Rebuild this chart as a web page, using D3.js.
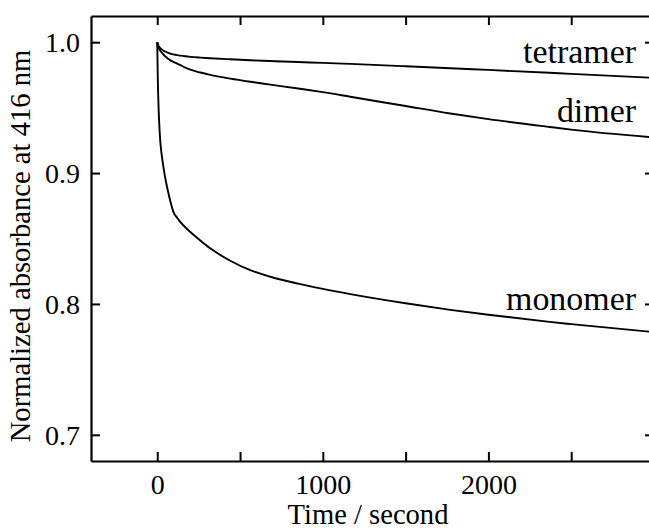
<!DOCTYPE html>
<html>
<head>
<meta charset="utf-8">
<script src="https://cdn.jsdelivr.net/npm/d3@7"></script>
<style>
  html, body { margin: 0; padding: 0; background: #fff; overflow: hidden; }
  svg { display: block; }
</style>
</head>
<body>
<svg id="chart" width="649" height="530"></svg>
<script>
// ---- data ----
const times = [0, 3, 8, 12, 18, 24, 30, 40, 48, 60, 66, 80, 97, 120, 140, 170, 200, 260, 320, 441, 562, 683, 850, 1000, 1166, 1500, 1770, 2000, 2370, 2500, 3000];
const monomer = [1.0, 0.975, 0.950, 0.938, 0.925, 0.917, 0.911, 0.9025, 0.8965, 0.889, 0.8855, 0.878, 0.8705, 0.8658, 0.8625, 0.8585, 0.855, 0.8485, 0.8425, 0.833, 0.8258, 0.8208, 0.8155, 0.8115, 0.8075, 0.8005, 0.7955, 0.7917, 0.7863, 0.7846, 0.7785];
const dimer   = [1.0, 0.9975, 0.9957, 0.9947, 0.9935, 0.9925, 0.9916, 0.9902, 0.9892, 0.9879, 0.9873, 0.9861, 0.985, 0.9836, 0.9824, 0.9806, 0.979, 0.9768, 0.975, 0.9722, 0.9698, 0.9676, 0.9646, 0.9618, 0.9583, 0.9512, 0.9455, 0.9412, 0.9352, 0.9332, 0.9272];
const tetramer= [1.0, 0.9985, 0.9972, 0.9964, 0.9955, 0.9948, 0.9942, 0.9934, 0.9929, 0.9922, 0.9919, 0.9913, 0.9907, 0.9901, 0.9897, 0.9892, 0.9888, 0.9882, 0.9877, 0.9869, 0.9862, 0.9856, 0.9848, 0.9842, 0.9834, 0.9816, 0.9801, 0.9788, 0.9766, 0.9758, 0.9727];
const seriesNames = ["tetramer", "dimer", "monomer"];
const xTicksMajor = [0, 1000, 2000];
const xTicksAll = [0, 500, 1000, 1500, 2000, 2500];
const yTicks = [0.7, 0.8, 0.9, 1.0];
const xTitle = "Time / second";
const yTitle = "Normalized absorbance at 416 nm";

// ---- font choice: first available serif face ----
const cv = document.createElement("canvas").getContext("2d");
function w(txt, fam, px) { cv.font = `${px}px ${fam}`; return cv.measureText(txt).width; }
const probe = "Normalized absorbance 1000 tetramer";
const candidates = ['"Liberation Serif"', '"Times New Roman"', '"DejaVu Serif"', '"Noto Serif"', 'Tinos', 'FreeSerif', '"Nimbus Roman"', 'Georgia'];
let FONT = null;
for (const c of candidates) {
  if (Math.abs(w(probe, c + ", monospace", 50) - w(probe, "monospace", 50)) > 0.5 &&
      Math.abs(w(probe, c + ", sans-serif", 50) - w(probe, "sans-serif", 50)) > 0.5) { FONT = c + ", serif"; break; }
}
if (!FONT) FONT = '"Liberation Serif", serif';
function fit(txt, target) { return 100 * target / w(txt, FONT, 100); }
const tickSize = Math.min(30, fit("1000", 56));
const titleSizeX = fit(xTitle, 161);
const titleSizeY = fit(yTitle, 393);
const labelSize = fit("monomer", 130);

// ---- layout ----
const svg = d3.select("#chart");
const L = 91, R = 654, T = 16, B = 461;
const x = d3.scaleLinear().domain([-400, 3000]).range([L, R]);
const y = d3.scaleLinear().domain([0.68, 1.02]).range([B, T]);

svg.append("defs").append("clipPath").attr("id", "plot")
  .append("rect").attr("x", L).attr("y", T).attr("width", R - L).attr("height", B - T);

// curves
const seriesData = { tetramer, dimer, monomer };
const line = d3.line()
  .x((d, i) => x(times[i]))
  .y(d => y(d))
  .curve(d3.curveMonotoneX);

const g = svg.append("g").attr("clip-path", "url(#plot)");
seriesNames.forEach(name => {
  g.append("path")
    .datum(seriesData[name])
    .attr("d", line)
    .attr("fill", "none")
    .attr("stroke", "#000")
    .attr("stroke-width", 1.9)
    .attr("stroke-linejoin", "round");
});

// axes
const tickLen = 9;
const axB = d3.axisBottom(x).tickValues(xTicksAll).tickSizeInner(-tickLen).tickSizeOuter(0)
  .tickFormat(d => xTicksMajor.includes(d) ? d3.format("d")(d) : "");
const axT = d3.axisTop(x).tickValues(xTicksAll).tickSizeInner(-tickLen).tickSizeOuter(0).tickFormat("");
const axL = d3.axisLeft(y).tickValues(yTicks).tickSizeInner(-tickLen).tickSizeOuter(0).tickFormat(d3.format(".1f"));
const axR = d3.axisRight(y).tickValues(yTicks).tickSizeInner(-tickLen).tickSizeOuter(0).tickFormat("");

function style(sel) {
  sel.attr("font-family", FONT);
  sel.selectAll(".domain").attr("stroke", "#000").attr("stroke-width", 2.2);
  sel.selectAll(".tick line").attr("stroke", "#000").attr("stroke-width", 2);
  sel.selectAll(".tick text").attr("font-family", FONT).attr("font-size", tickSize).attr("fill", "#000");
}

const gb = svg.append("g").attr("transform", `translate(0,${B})`).call(axB).call(style);
gb.selectAll(".tick text").attr("dy", 0).attr("y", 33);
svg.append("g").attr("transform", `translate(0,${T})`).call(axT).call(style);
const gl = svg.append("g").attr("transform", `translate(${L},0)`).call(axL).call(style);
gl.selectAll(".tick text").attr("x", -11).attr("dy", "0.35em");
svg.append("g").attr("transform", `translate(${R},0)`).call(axR).call(style);

// titles
svg.append("text").attr("x", 368).attr("y", 524).attr("text-anchor", "middle")
  .attr("font-family", FONT).attr("font-size", titleSizeX).attr("fill", "#000").text(xTitle);
svg.append("text").attr("transform", "translate(30,246) rotate(-90)").attr("text-anchor", "middle")
  .attr("font-family", FONT).attr("font-size", titleSizeY).attr("fill", "#000").text(yTitle);

// series labels
const labelPos = { tetramer: 63, dimer: 122, monomer: 310 };
seriesNames.forEach(name => {
  svg.append("text").attr("x", 636).attr("y", labelPos[name]).attr("text-anchor", "end")
    .attr("font-family", FONT).attr("font-size", labelSize).attr("fill", "#000").text(name);
});
</script>
</body>
</html>
